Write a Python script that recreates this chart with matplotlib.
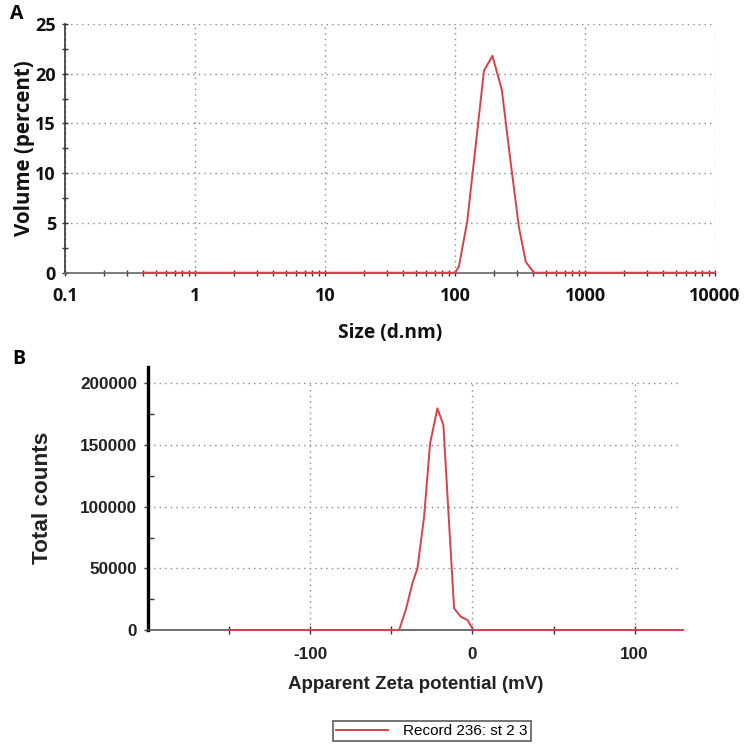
import matplotlib
matplotlib.use("Agg")
import matplotlib.pyplot as plt
from matplotlib.ticker import FixedLocator, NullFormatter, LogLocator

plt.rcParams["axes.unicode_minus"] = False

# ---- Panel A data: size distribution by volume ----
size_nm = [0.4, 100, 107, 124, 144, 167, 194, 229, 268, 310, 350, 405, 10000]
volume_pct = [0, 0, 0.6, 5.1, 12.7, 20.3, 21.8, 18.4, 11.1, 4.6, 1.1, 0, 0]
a_xticks = [0.1, 1, 10, 100, 1000, 10000]
a_xticklabels = ["0.1", "1", "10", "100", "1000", "10000"]
a_yticks = [0, 5, 10, 15, 20, 25]

# ---- Panel B data: zeta potential distribution ----
zeta_mv = [-150, -45.2, -41.1, -37.0, -33.9, -29.8, -26.1, -21.6, -17.9,
           -14.4, -11.3, -7.2, -3.1, 0.6, 130]
total_counts = [0, 0, 16200, 37900, 50000, 91800, 151300, 179700, 166200,
                86500, 17600, 10800, 8100, 0, 0]
b_xticks = [-100, 0, 100]
b_xminor = [-150, -50, 50]
b_yticks = [0, 50000, 100000, 150000, 200000]
b_yminor = [25000, 75000, 125000, 175000]
legend_label = "Record 236: st 2 3"

RED = "#d8404a"
GRID = "#8a8a8a"

fig = plt.figure(figsize=(7.5, 7.49), dpi=100)

# ================= Panel A =================
axA = fig.add_axes([65/750, 1-272.7/749, 650/750, 248.7/749])
axA.plot(size_nm, volume_pct, color=RED, lw=1.4, zorder=4, clip_on=False)
axA.set_xscale("log")
axA.set_xlim(0.1, 10000)
axA.set_ylim(0, 25)
axA.xaxis.set_major_locator(FixedLocator(a_xticks))
axA.set_xticklabels(a_xticklabels)
axA.xaxis.set_minor_locator(LogLocator(base=10, subs=range(2, 10)))
axA.xaxis.set_minor_formatter(NullFormatter())
axA.set_yticks(a_yticks)
axA.set_yticks([2.5, 7.5, 12.5, 17.5, 22.5], minor=True)
for s in ("top", "right"):
    axA.spines[s].set_visible(False)
axA.spines["left"].set_color("#333333")
axA.spines["left"].set_linewidth(1.2)
axA.spines["bottom"].set_color("#666666")
axA.spines["bottom"].set_linewidth(1.2)
axA.tick_params(which="both", direction="inout", length=5, width=1.0,
                colors="#333333")
axA.tick_params(axis="x", which="both", pad=8)
axA.tick_params(axis="y", which="both", pad=4)
fa = matplotlib.font_manager.FontProperties(family="Open Sans", weight="bold", size=13)
for lab in axA.get_xticklabels() + axA.get_yticklabels():
    lab.set_fontproperties(fa)
    lab.set_color("#111111")
axA.grid(True, which="major", linestyle=(0, (1, 3)), color=GRID, lw=1.0)
axA.set_axisbelow(True)
axA.set_xlabel("Size (d.nm)", fontdict=dict(family="Open Sans", weight="bold", size=13.8),
               labelpad=13, color="#111111")
axA.set_ylabel("Volume (percent)", fontdict=dict(family="Open Sans", weight="bold", size=14.8),
               labelpad=0.5, color="#111111")
fig.text(10/750, 1-14/749, "A", family="Open Sans", weight="bold", size=14,
         va="center", ha="left")

# ================= Panel B =================
axB = fig.add_axes([148/750, 1-630/749, 535.3/750, 263.3/749])
axB.set_xlim(-200, 130)
axB.set_ylim(0, 213500)
axB.vlines(b_xticks, 0, b_yticks[-1], colors=GRID, linestyles=(0, (1, 3)), lw=1.0, zorder=1)
axB.hlines(b_yticks[1:], -200, 128, colors=GRID, linestyles=(0, (1, 3)), lw=1.0, zorder=1)
axB.plot(zeta_mv, total_counts, color=RED, lw=1.4, zorder=4, clip_on=False)
axB.set_xticks(b_xticks)
axB.set_xticks(b_xminor, minor=True)
axB.set_yticks(b_yticks)
axB.set_yticks(b_yminor, minor=True)
axB.ticklabel_format(axis="y", style="plain", useOffset=False)
for s in ("top", "right"):
    axB.spines[s].set_visible(False)
axB.spines["left"].set_color("black")
axB.spines["left"].set_linewidth(2.4)
axB.spines["bottom"].set_color("#555555")
axB.spines["bottom"].set_linewidth(1.2)
axB.tick_params(axis="x", which="both", direction="inout", length=6, width=1.0,
                colors="#333333", pad=9)
axB.tick_params(axis="y", which="major", direction="out", length=3, width=1.0,
                colors="#333333", pad=5)
axB.tick_params(axis="y", which="minor", direction="in", length=4, width=1.0,
                colors="#333333")
fb = matplotlib.font_manager.FontProperties(family="Liberation Sans", weight="bold", size=12.3)
for lab in axB.get_xticklabels() + axB.get_yticklabels():
    lab.set_fontproperties(fb)
    lab.set_color("#222222")
axB.set_xlabel("Apparent Zeta potential (mV)",
               fontdict=dict(family="Liberation Sans", weight="bold", size=13.5),
               labelpad=10, color="#222222")
axB.set_ylabel("Total counts",
               fontdict=dict(family="Liberation Sans", weight="bold", size=16.2),
               labelpad=19, color="#222222")
fig.text(12/750, 1-359/749, "B", family="Open Sans", weight="bold", size=14,
         va="center", ha="left")

handles = axB.get_lines()
leg = fig.legend([handles[-1]], [legend_label], loc="center",
                 bbox_to_anchor=(432/750, 1-731/749),
                 prop=dict(family="Liberation Sans", size=11),
                 frameon=True, fancybox=False, handlelength=3.4,
                 borderpad=0.2, handletextpad=1.0, borderaxespad=0)
leg.get_frame().set_edgecolor("#333333")
leg.get_frame().set_linewidth(1.2)

fig.savefig("out.png", dpi=100)
